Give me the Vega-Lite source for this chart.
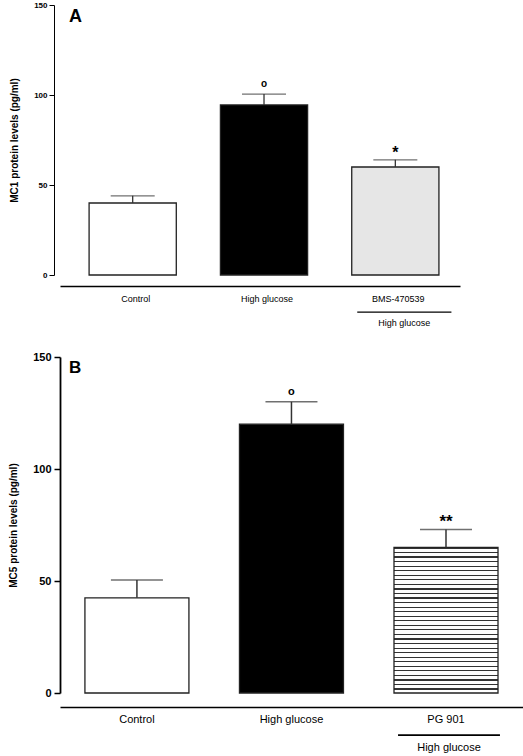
{
  "$schema": "https://vega.github.io/schema/vega-lite/v6.json",
  "padding": {"left": 8, "top": 1, "right": 0, "bottom": 0},
  "spacing": 22,
  "resolve": {"scale": {"x": "independent", "y": "independent", "fill": "independent"}},
  "config": {
    "view": {"stroke": null},
    "font": "Liberation Sans",
    "axis": {"grid": false, "domainColor": "black", "tickColor": "black", "labelColor": "black", "titleColor": "black"},
    "title": {"color": "black"}
  },
  "vconcat": [
    {
      "width": 400,
      "height": 270,
      "title": {"text": "A", "anchor": "start", "frame": "group", "offset": -25, "dx": 9, "fontSize": 18, "fontWeight": "bold"},
      "data": {"values": [
        {"group": "Control", "mean": 40, "upper": 44, "sig": ""},
        {"group": "High glucose", "mean": 94.5, "upper": 100.5, "sig": "o"},
        {"group": "BMS-470539", "mean": 60, "upper": 64, "sig": "*"}
      ]},
      "encoding": {
        "x": {
          "field": "group", "type": "nominal", "sort": null,
          "scale": {"paddingInner": 0.336, "paddingOuter": 0.191, "align": 0.58},
          "axis": {"title": null, "orient": "bottom", "offset": 11, "ticks": false, "domainWidth": 1.3, "labelAngle": 0, "labelFontSize": 9, "labelPadding": 8, "labelOffset": 3}
        }
      },
      "layer": [
        {
          "mark": {"type": "bar", "stroke": "#222", "strokeWidth": 1.3},
          "encoding": {
            "y": {"field": "mean", "type": "quantitative", "scale": {"domain": [0, 150], "nice": false},
              "axis": {"offset": 6, "values": [0, 50, 100, 150], "tickSize": 5, "labelFontSize": 8, "labelFontWeight": "bold", "labelPadding": 2, "domainWidth": 1, "title": "MC1 protein levels (pg/ml)", "titleFontSize": 10, "titleFontWeight": "bold", "titlePadding": 14}},
            "fill": {"field": "group", "type": "nominal", "scale": {"domain": ["Control", "High glucose", "BMS-470539"], "range": ["white", "black", "#e6e6e6"]}, "legend": null}
          }
        },
        {
          "mark": {"type": "rule", "color": "#333", "strokeWidth": 1.3},
          "encoding": {"y": {"field": "mean", "type": "quantitative"}, "y2": {"field": "upper"}}
        },
        {
          "mark": {"type": "tick", "color": "#333", "size": 44, "thickness": 1.3},
          "encoding": {"y": {"field": "upper", "type": "quantitative"}}
        },
        {
          "transform": [{"filter": "datum.sig === 'o'"}],
          "mark": {"type": "text", "baseline": "bottom", "dy": -5, "fontSize": 10, "fontWeight": "bold"},
          "encoding": {"y": {"field": "upper", "type": "quantitative"}, "text": {"field": "sig"}}
        },
        {
          "transform": [{"filter": "datum.sig === '*'"}],
          "mark": {"type": "text", "baseline": "bottom", "dy": 1, "fontSize": 16, "fontWeight": "bold"},
          "encoding": {"y": {"field": "upper", "type": "quantitative"}, "text": {"field": "sig"}}
        },
        {
          "transform": [{"filter": "datum.group === 'BMS-470539'"}],
          "mark": {"type": "bar", "color": "black", "width": {"band": 1.08}, "xOffset": 9},
          "encoding": {"y": {"datum": -20.3, "type": "quantitative"}, "y2": {"datum": -21.0}}
        },
        {
          "transform": [{"filter": "datum.group === 'BMS-470539'"}],
          "mark": {"type": "text", "fontSize": 9, "xOffset": 9, "baseline": "middle"},
          "encoding": {"y": {"datum": -26.7, "type": "quantitative"}, "text": {"value": "High glucose"}}
        }
      ]
    },
    {
      "width": 465,
      "height": 336,
      "title": {"text": "B", "anchor": "start", "frame": "group", "offset": -26, "dx": 9, "fontSize": 17, "fontWeight": "bold"},
      "data": {"values": [
        {"group": "Control", "mean": 42.5, "upper": 50.5, "sig": ""},
        {"group": "High glucose", "mean": 120, "upper": 130, "sig": "o"},
        {"group": "PG 901", "mean": 65, "upper": 73, "sig": "**"}
      ]},
      "encoding": {
        "x": {
          "field": "group", "type": "nominal", "sort": null,
          "scale": {"paddingInner": 0.327, "paddingOuter": 0.168, "align": 0.48},
          "axis": {"title": null, "orient": "bottom", "offset": 14, "ticks": false, "domainWidth": 1.5, "labelAngle": 0, "labelFontSize": 11, "labelPadding": 6}
        }
      },
      "layer": [
        {
          "transform": [{"filter": "datum.group !== 'PG 901'"}],
          "mark": {"type": "bar", "stroke": "#222", "strokeWidth": 1.3},
          "encoding": {
            "y": {"field": "mean", "type": "quantitative", "scale": {"domain": [0, 150], "nice": false},
              "axis": {"values": [0, 50, 100, 150], "tickSize": 6, "labelFontSize": 11, "labelFontWeight": "bold", "labelPadding": 3, "domainWidth": 1.8, "tickWidth": 1.5, "title": "MC5 protein levels (pg/ml)", "titleFontSize": 10, "titleFontWeight": "bold", "titlePadding": 14}},
            "fill": {"field": "group", "type": "nominal", "scale": {"domain": ["Control", "High glucose"], "range": ["white", "black"]}, "legend": null}
          }
        },
        {
          "transform": [{"filter": "datum.group === 'PG 901'"}],
          "mark": {"type": "bar", "stroke": "#222", "strokeWidth": 1.3,
            "fill": {"gradient": "linear", "x1": 0, "y1": 0, "x2": 0, "y2": 1, "stops": [
              {"offset": 0, "color": "#333"}, {"offset": 0.008, "color": "#333"}, {"offset": 0.008, "color": "#fff"}, {"offset": 0.03125, "color": "#fff"},
              {"offset": 0.03125, "color": "#333"}, {"offset": 0.03925, "color": "#333"}, {"offset": 0.03925, "color": "#fff"}, {"offset": 0.0625, "color": "#fff"},
              {"offset": 0.0625, "color": "#333"}, {"offset": 0.0705, "color": "#333"}, {"offset": 0.0705, "color": "#fff"}, {"offset": 0.09375, "color": "#fff"},
              {"offset": 0.09375, "color": "#333"}, {"offset": 0.10175, "color": "#333"}, {"offset": 0.10175, "color": "#fff"}, {"offset": 0.125, "color": "#fff"},
              {"offset": 0.125, "color": "#333"}, {"offset": 0.133, "color": "#333"}, {"offset": 0.133, "color": "#fff"}, {"offset": 0.15625, "color": "#fff"},
              {"offset": 0.15625, "color": "#333"}, {"offset": 0.16425, "color": "#333"}, {"offset": 0.16425, "color": "#fff"}, {"offset": 0.1875, "color": "#fff"},
              {"offset": 0.1875, "color": "#333"}, {"offset": 0.1955, "color": "#333"}, {"offset": 0.1955, "color": "#fff"}, {"offset": 0.21875, "color": "#fff"},
              {"offset": 0.21875, "color": "#333"}, {"offset": 0.22675, "color": "#333"}, {"offset": 0.22675, "color": "#fff"}, {"offset": 0.25, "color": "#fff"},
              {"offset": 0.25, "color": "#333"}, {"offset": 0.258, "color": "#333"}, {"offset": 0.258, "color": "#fff"}, {"offset": 0.28125, "color": "#fff"},
              {"offset": 0.28125, "color": "#333"}, {"offset": 0.28925, "color": "#333"}, {"offset": 0.28925, "color": "#fff"}, {"offset": 0.3125, "color": "#fff"},
              {"offset": 0.3125, "color": "#333"}, {"offset": 0.3205, "color": "#333"}, {"offset": 0.3205, "color": "#fff"}, {"offset": 0.34375, "color": "#fff"},
              {"offset": 0.34375, "color": "#333"}, {"offset": 0.35175, "color": "#333"}, {"offset": 0.35175, "color": "#fff"}, {"offset": 0.375, "color": "#fff"},
              {"offset": 0.375, "color": "#333"}, {"offset": 0.383, "color": "#333"}, {"offset": 0.383, "color": "#fff"}, {"offset": 0.40625, "color": "#fff"},
              {"offset": 0.40625, "color": "#333"}, {"offset": 0.41425, "color": "#333"}, {"offset": 0.41425, "color": "#fff"}, {"offset": 0.4375, "color": "#fff"},
              {"offset": 0.4375, "color": "#333"}, {"offset": 0.4455, "color": "#333"}, {"offset": 0.4455, "color": "#fff"}, {"offset": 0.46875, "color": "#fff"},
              {"offset": 0.46875, "color": "#333"}, {"offset": 0.47675, "color": "#333"}, {"offset": 0.47675, "color": "#fff"}, {"offset": 0.5, "color": "#fff"},
              {"offset": 0.5, "color": "#333"}, {"offset": 0.508, "color": "#333"}, {"offset": 0.508, "color": "#fff"}, {"offset": 0.53125, "color": "#fff"},
              {"offset": 0.53125, "color": "#333"}, {"offset": 0.53925, "color": "#333"}, {"offset": 0.53925, "color": "#fff"}, {"offset": 0.5625, "color": "#fff"},
              {"offset": 0.5625, "color": "#333"}, {"offset": 0.5705, "color": "#333"}, {"offset": 0.5705, "color": "#fff"}, {"offset": 0.59375, "color": "#fff"},
              {"offset": 0.59375, "color": "#333"}, {"offset": 0.60175, "color": "#333"}, {"offset": 0.60175, "color": "#fff"}, {"offset": 0.625, "color": "#fff"},
              {"offset": 0.625, "color": "#333"}, {"offset": 0.633, "color": "#333"}, {"offset": 0.633, "color": "#fff"}, {"offset": 0.65625, "color": "#fff"},
              {"offset": 0.65625, "color": "#333"}, {"offset": 0.66425, "color": "#333"}, {"offset": 0.66425, "color": "#fff"}, {"offset": 0.6875, "color": "#fff"},
              {"offset": 0.6875, "color": "#333"}, {"offset": 0.6955, "color": "#333"}, {"offset": 0.6955, "color": "#fff"}, {"offset": 0.71875, "color": "#fff"},
              {"offset": 0.71875, "color": "#333"}, {"offset": 0.72675, "color": "#333"}, {"offset": 0.72675, "color": "#fff"}, {"offset": 0.75, "color": "#fff"},
              {"offset": 0.75, "color": "#333"}, {"offset": 0.758, "color": "#333"}, {"offset": 0.758, "color": "#fff"}, {"offset": 0.78125, "color": "#fff"},
              {"offset": 0.78125, "color": "#333"}, {"offset": 0.78925, "color": "#333"}, {"offset": 0.78925, "color": "#fff"}, {"offset": 0.8125, "color": "#fff"},
              {"offset": 0.8125, "color": "#333"}, {"offset": 0.8205, "color": "#333"}, {"offset": 0.8205, "color": "#fff"}, {"offset": 0.84375, "color": "#fff"},
              {"offset": 0.84375, "color": "#333"}, {"offset": 0.85175, "color": "#333"}, {"offset": 0.85175, "color": "#fff"}, {"offset": 0.875, "color": "#fff"},
              {"offset": 0.875, "color": "#333"}, {"offset": 0.883, "color": "#333"}, {"offset": 0.883, "color": "#fff"}, {"offset": 0.90625, "color": "#fff"},
              {"offset": 0.90625, "color": "#333"}, {"offset": 0.91425, "color": "#333"}, {"offset": 0.91425, "color": "#fff"}, {"offset": 0.9375, "color": "#fff"},
              {"offset": 0.9375, "color": "#333"}, {"offset": 0.9455, "color": "#333"}, {"offset": 0.9455, "color": "#fff"}, {"offset": 0.96875, "color": "#fff"},
              {"offset": 0.96875, "color": "#333"}, {"offset": 0.97675, "color": "#333"}, {"offset": 0.97675, "color": "#fff"}, {"offset": 1, "color": "#fff"}
            ]}},
          "encoding": {"y": {"field": "mean", "type": "quantitative"}}
        },
        {
          "mark": {"type": "rule", "color": "#333", "strokeWidth": 1.5},
          "encoding": {"y": {"field": "mean", "type": "quantitative"}, "y2": {"field": "upper"}}
        },
        {
          "mark": {"type": "tick", "color": "#333", "size": 52, "thickness": 1.5},
          "encoding": {"y": {"field": "upper", "type": "quantitative"}}
        },
        {
          "transform": [{"filter": "datum.sig === 'o'"}],
          "mark": {"type": "text", "baseline": "bottom", "dy": -5, "fontSize": 11, "fontWeight": "bold"},
          "encoding": {"y": {"field": "upper", "type": "quantitative"}, "text": {"field": "sig"}}
        },
        {
          "transform": [{"filter": "datum.sig === '**'"}],
          "mark": {"type": "text", "baseline": "bottom", "dy": 2, "fontSize": 17, "fontWeight": "bold"},
          "encoding": {"y": {"field": "upper", "type": "quantitative"}, "text": {"field": "sig"}}
        },
        {
          "transform": [{"filter": "datum.group === 'PG 901'"}],
          "mark": {"type": "bar", "color": "black", "width": {"band": 0.98}, "xOffset": 3},
          "encoding": {"y": {"datum": -18.4, "type": "quantitative"}, "y2": {"datum": -19.2}}
        },
        {
          "transform": [{"filter": "datum.group === 'PG 901'"}],
          "mark": {"type": "text", "fontSize": 11, "xOffset": 3, "baseline": "middle"},
          "encoding": {"y": {"datum": -24.6, "type": "quantitative"}, "text": {"value": "High glucose"}}
        }
      ]
    }
  ]
}
